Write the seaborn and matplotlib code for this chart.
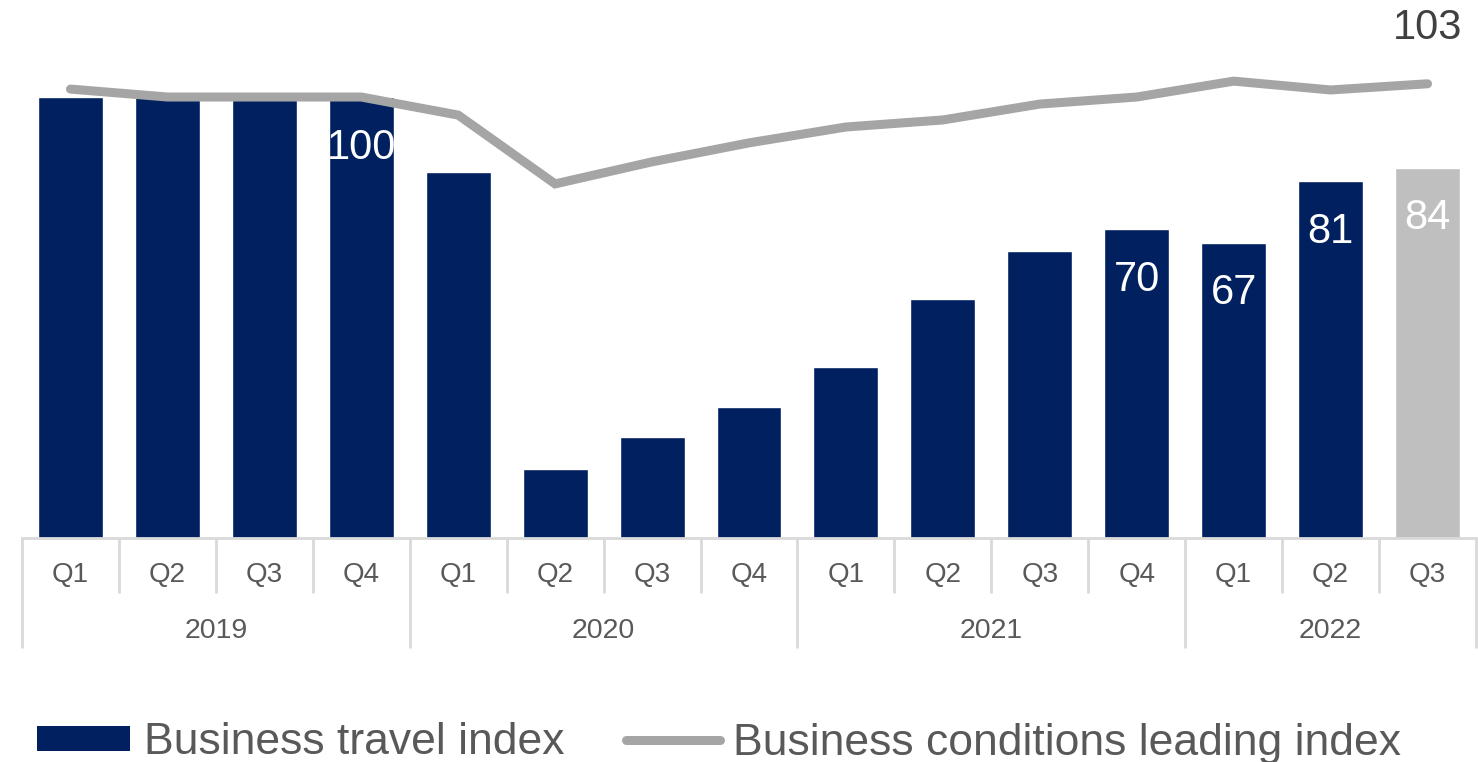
import matplotlib
matplotlib.use("Agg")
import matplotlib.pyplot as plt
import matplotlib.transforms as mtransforms
from matplotlib.patches import Patch
from matplotlib.lines import Line2D
import seaborn as sns
import pandas as pd

# Quarterly index data
years = ["2019", "2020", "2021", "2022"]
quarters = ["Q1", "Q2", "Q3", "Q4", "Q1", "Q2", "Q3", "Q4",
            "Q1", "Q2", "Q3", "Q4", "Q1", "Q2", "Q3"]
quarter_year = ["2019"] * 4 + ["2020"] * 4 + ["2021"] * 4 + ["2022"] * 3
travel_index = [100, 100, 100, 100, 83, 15.6, 23, 29.7,
                38.8, 54.2, 65, 70, 67, 81, 84]
conditions_index = [101.8, 100, 100, 100, 95.9, 80.3, 85.3, 89.6,
                    93.2, 94.8, 98.4, 100, 103.6, 101.6, 103]
forecast = [False] * 14 + [True]
bar_labels = {3: "100", 11: "70", 12: "67", 13: "81", 14: "84"}
line_labels = {14: "103"}

NAVY = "#002060"
GREY_BAR = "#bfbfbf"
GREY_LINE = "#a5a5a5"
SEP = "#d9d9d9"
TXT = "#595959"

sns.set_theme(style="white")
plt.rcParams["font.family"] = ["Liberation Sans", "DejaVu Sans"]

df = pd.DataFrame({
    "period": [f"{y} {q}" for y, q in zip(quarter_year, quarters)],
    "travel": travel_index,
    "conditions": conditions_index,
})
df["pos"] = range(len(df))
palette = {p: (GREY_BAR if f else NAVY) for p, f in zip(df["period"], forecast)}

fig = plt.figure(figsize=(14.78, 7.62), dpi=100)
ax = fig.add_axes([22 / 1478, 1 - 538 / 762, (1476 - 22) / 1478, 538 / 762])

sns.barplot(data=df, x="period", y="travel", hue="period", palette=palette,
            dodge=False, width=0.67, legend=False, ax=ax, saturation=1)
sns.lineplot(data=df, x="pos", y="conditions", color=GREY_LINE, linewidth=6.5,
             ax=ax, solid_capstyle="round", solid_joinstyle="miter")

ax.set_xlim(-0.5, len(df) - 0.5)
ax.set_ylim(0, 122)
ax.set_xlabel("")
ax.set_ylabel("")
ax.set_xticks([])
ax.set_yticks([])
for s in ["left", "right", "top"]:
    ax.spines[s].set_visible(False)
ax.spines["bottom"].set_color(SEP)
ax.spines["bottom"].set_linewidth(2)

# Value labels
for i, t in bar_labels.items():
    ax.text(i, travel_index[i] - 11.5, t, ha="center", va="center",
            color="white", fontsize=30)
for i, t in line_labels.items():
    ax.text(i, conditions_index[i] + 12.6, t, ha="center", va="center",
            color="#404040", fontsize=30)

# Two-level category axis
trans = mtransforms.blended_transform_factory(ax.transData, ax.transAxes)
q_bottom, y_bottom = -0.102, -0.2045
for i, q in enumerate(quarters):
    ax.text(i, -0.0688, q, transform=trans, ha="center", va="center",
            color=TXT, fontsize=20)
year_edges = [0]
for i in range(1, len(quarter_year)):
    if quarter_year[i] != quarter_year[i - 1]:
        year_edges.append(i)
year_edges.append(len(quarter_year))
for k in range(len(quarters) + 1):
    bottom = y_bottom if k in year_edges else q_bottom
    ax.plot([k - 0.5, k - 0.5], [0, bottom], transform=trans, color=SEP,
            lw=2, clip_on=False, solid_capstyle="butt")
for a, b, y in zip(year_edges[:-1], year_edges[1:], years):
    ax.text((a + b - 1) / 2, -0.173, y, transform=trans, ha="center",
            va="center", color=TXT, fontsize=20.5)

handles = [Patch(facecolor=NAVY, edgecolor="none"),
           Line2D([0], [0], color=GREY_LINE, lw=6.5, solid_capstyle="round")]
fig.legend(handles, ["Business travel index", "Business conditions leading index"],
           loc="center left", bbox_to_anchor=(37 / 1478, 1 - 743 / 762), ncol=2,
           frameon=False, fontsize=32, labelcolor=TXT, handlelength=2.1,
           handleheight=0.5, handletextpad=0.3, columnspacing=1.4,
           borderpad=0, borderaxespad=0)

fig.savefig("out.png", dpi=100)
